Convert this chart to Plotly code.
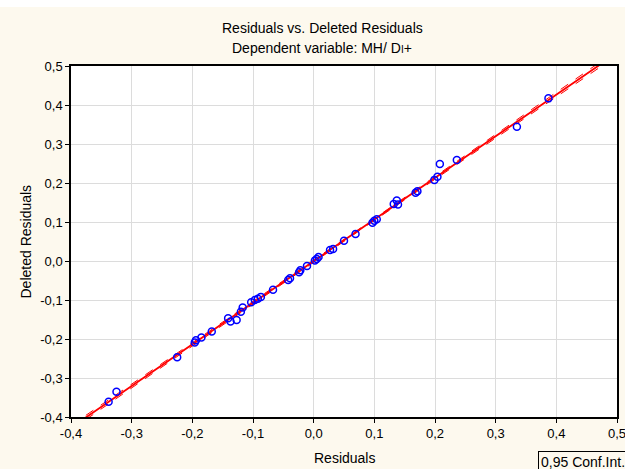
import numpy as np
import plotly.graph_objects as go

residuals = [-0.338, -0.325, -0.225, -0.196, -0.194, -0.185, -0.168, -0.141, -0.137, -0.127,
             -0.120, -0.117, -0.103, -0.097, -0.092, -0.087, -0.067, -0.042, -0.039, -0.024,
             -0.022, -0.011, 0.002, 0.005, 0.008, 0.027, 0.032, 0.050, 0.069, 0.097,
             0.100, 0.104, 0.132, 0.137, 0.139, 0.168, 0.171, 0.199, 0.204, 0.208,
             0.236, 0.335, 0.387]
deleted = [-0.361, -0.335, -0.247, -0.209, -0.203, -0.196, -0.181, -0.147, -0.155, -0.151,
           -0.130, -0.119, -0.106, -0.100, -0.097, -0.092, -0.074, -0.049, -0.044, -0.029,
           -0.024, -0.013, 0.001, 0.005, 0.010, 0.028, 0.031, 0.052, 0.069, 0.098,
           0.103, 0.107, 0.146, 0.155, 0.145, 0.175, 0.179, 0.208, 0.216, 0.249,
           0.259, 0.344, 0.417]
tick_values = [-0.4, -0.3, -0.2, -0.1, 0.0, 0.1, 0.2, 0.3, 0.4, 0.5]
tick_labels = ["-0,4", "-0,3", "-0,2", "-0,1", "0,0", "0,1", "0,2", "0,3", "0,4", "0,5"]
title_line1 = "Residuals vs. Deleted Residuals"
title_line2 = "Dependent variable: MH/ D<span style='font-size:10px'>I</span>+"
x_title = "Residuals"
y_title = "Deleted Residuals"
legend_text = "0,95 Conf.Int."

x = np.array(residuals)
y = np.array(deleted)
n = len(x)
b, a = np.polyfit(x, y, 1)
xl = np.linspace(-0.4, 0.5, 200)
yl = a + b * xl
res = y - (a + b * x)
s = np.sqrt(np.sum(res ** 2) / (n - 2))
se = s * np.sqrt(1 / n + (xl - x.mean()) ** 2 / np.sum((x - x.mean()) ** 2))
t = 2.02
upper = yl + t * se
lower = yl - t * se

fig = go.Figure()
fig.add_trace(go.Scatter(x=xl, y=upper, mode="lines", line=dict(color="#ff0000", width=1, dash="dash"),
                         showlegend=False, hoverinfo="skip"))
fig.add_trace(go.Scatter(x=xl, y=lower, mode="lines", line=dict(color="#ff0000", width=1, dash="dash"),
                         showlegend=False, hoverinfo="skip"))
fig.add_trace(go.Scatter(x=xl, y=yl, mode="lines", line=dict(color="#ff0000", width=1.8),
                         showlegend=False, hoverinfo="skip"))
fig.add_trace(go.Scatter(x=residuals, y=deleted, mode="markers",
                         marker=dict(symbol="circle-open", size=7, color="#0000ff",
                                     line=dict(width=1.5, color="#0000ff")),
                         showlegend=False))

tick_font = dict(family="Liberation Sans, Arial, sans-serif", size=13, color="#000000")
text_font = dict(family="Liberation Sans, Arial, sans-serif", size=14, color="#000000")
axis_common = dict(
    showline=True, linecolor="#000000", linewidth=1.5, mirror=True,
    ticks="outside", ticklen=4, tickcolor="#000000", tickwidth=1,
    showgrid=True, gridcolor="#dcdcdc", gridwidth=1, zeroline=False,
    tickmode="array", tickvals=tick_values, ticktext=tick_labels,
    tickfont=tick_font, automargin=False, ticklabeloverflow="allow",
)
fig.update_xaxes(range=[-0.4, 0.5], **axis_common)
fig.update_yaxes(range=[-0.4, 0.5], **axis_common)

fig.update_layout(
    width=625, height=469,
    margin=dict(l=71, r=8, t=66, b=52, autoexpand=False),
    paper_bgcolor="#fdf9ee", plot_bgcolor="#ffffff",
    font=tick_font,
    showlegend=False,
)
# white strip at top
fig.add_shape(type="rect", xref="paper", yref="paper", x0=-0.2, x1=1.1,
              y0=(417 - 7) / 351, y1=(417 + 5) / 351, fillcolor="#ffffff", line=dict(width=0), layer="below")

fig.add_annotation(text=title_line1, xref="paper", yref="paper", x=(322 - 71) / 546, y=(417 - 28) / 351,
                   showarrow=False, xanchor="center", yanchor="middle", font=text_font)
fig.add_annotation(text=title_line2, xref="paper", yref="paper", x=(322 - 71) / 546, y=(417 - 48) / 351,
                   showarrow=False, xanchor="center", yanchor="middle", font=text_font)
fig.add_annotation(text=x_title, xref="paper", yref="paper", x=0.5, y=(417 - 458) / 351,
                   showarrow=False, xanchor="center", yanchor="middle", font=text_font)
fig.add_annotation(text=y_title, xref="paper", yref="paper", x=(25 - 71) / 546, y=0.5, textangle=-90,
                   showarrow=False, xanchor="center", yanchor="middle", font=text_font)
fig.add_annotation(text=legend_text, xref="paper", yref="paper", x=(538 - 71) / 546, y=(417 - 451) / 351,
                   showarrow=False, xanchor="left", yanchor="top", font=text_font,
                   bordercolor="#000000", borderwidth=1, borderpad=2, bgcolor="#fdf9ee")

fig.write_html("out.html")
